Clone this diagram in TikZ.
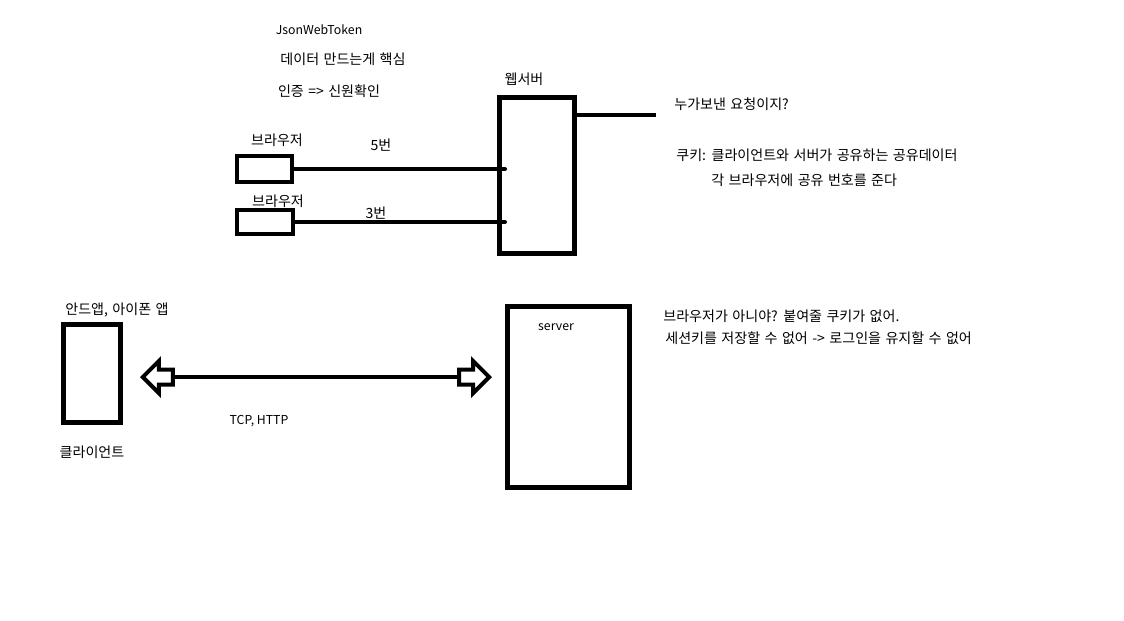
\documentclass[tikz,border=0pt]{standalone}
\usepackage{fontspec}
\setmainfont{Noto Sans CJK KR}
\newfontfamily\kofont[WordSpace=1.4]{Noto Sans CJK KR}
\usetikzlibrary{positioning,calc,shapes.arrows}

\begin{document}
\begin{tikzpicture}[x=0.02cm, y=-0.02cm,
    brbox/.style={rectangle, draw, line width=0.08cm, inner sep=0pt},
    bigbox/.style={rectangle, draw, line width=0.1cm, inner sep=0pt},
    wire/.style={line width=0.08cm, line cap=round},
    fatarrow/.style={single arrow, draw, line width=0.08cm, inner sep=0.11cm,
                minimum height=0.6cm, single arrow head extend=0.17cm},
    lbl/.style={font=\fontsize{7}{8}\selectfont, inner sep=0pt},
    klbl/.style={font=\kofont\fontsize{8}{9}\selectfont, inner sep=0pt},
]
\useasboundingbox (0,0) rectangle (1124,620);

% top part: web server
\node[lbl] (jwt) at (319,30) {JsonWebToken};
\node[klbl] (core) at (343,59) {데이터 만드는게 핵심};
\node[klbl] (auth) at (329,91) {인증 => 신원확인};

\node[brbox, minimum width=1.1cm, minimum height=0.52cm] (b1) at (264.5,169) {};
\node[brbox, minimum width=1.12cm, minimum height=0.48cm] (b2) at (265,222) {};
\node[klbl] at (277,140) {브라우저};
\node[klbl] at (278,201) {브라우저};

\node[bigbox, minimum width=1.5cm, minimum height=3.12cm] (web) at (537,175.5) {};
\node[klbl] at (524,79) {웹서버};

\draw[wire] (b1.east) -- ($(b1.east -| web.west)+(8,0)$);
\draw[wire] (b2.east) -- ($(b2.east -| web.west)+(8,0)$);
\node[klbl] at (381,145) {5번};
\node[klbl] at (376,213) {3번};

\coordinate (who) at (656,115);
\draw[wire, line cap=butt] (web.east |- who) -- (who);
\node[klbl, anchor=west] at (674,104) {누가보낸 요청이지?};
\node[klbl, anchor=west] at (676,155) {쿠키: 클라이언트와 서버가 공유하는 공유데이터};
\node[klbl, anchor=west] at (711,180) {각 브라우저에 공유 번호를 준다};

% bottom part: app client
\node[bigbox, minimum width=1.14cm, minimum height=1.96cm] (client) at (92,373.5) {};
\node[klbl] at (117,310) {안드앱, 아이폰 앱};
\node[klbl] at (92,452) {클라이언트};

\node[bigbox, minimum width=2.44cm, minimum height=3.62cm] (server) at (568.5,397) {};
\node[lbl] at (556,327) {server};

\node[fatarrow, shape border rotate=180, anchor=tip] (la) at (140,377) {};
\node[fatarrow, anchor=tip] (ra) at (492,377) {};
\draw[wire, line cap=butt] (la.tail) -- (ra.tail);
\node[lbl] at (259,421) {TCP, HTTP};

\node[klbl, anchor=west] at (663,316) {브라우저가 아니야? 붙여줄 쿠키가 없어.};
\node[klbl, anchor=west] at (665,338) {세션키를 저장할 수 없어 -> 로그인을 유지할 수 없어};

\end{tikzpicture}
\end{document}
